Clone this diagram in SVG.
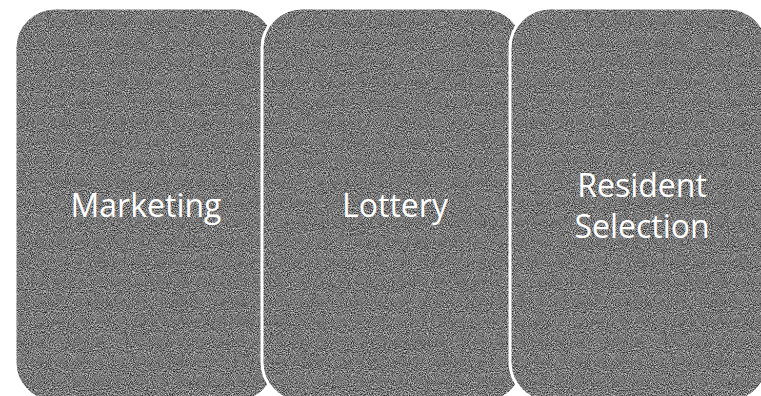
<svg xmlns="http://www.w3.org/2000/svg" width="761" height="396" viewBox="0 0 761 396">
  <style>
    .box { fill: #777777; filter: url(#grain); }
    .edge { fill: none; stroke: #ffffff; stroke-width: 3; }
    .lbl { fill: #ffffff; font-family: "Open Sans", "Noto Sans", "Liberation Sans", sans-serif; font-size: 32px; text-anchor: middle; }
  </style>
  <defs>
    <filter id="grain" x="0" y="0" width="1" height="1" color-interpolation-filters="sRGB">
      <feTurbulence type="fractalNoise" baseFrequency="0.95" numOctaves="2" seed="7" result="n"/>
      <feColorMatrix in="n" type="matrix" values="1.1 0 0 0 -0.08  1.1 0 0 0 -0.08  1.1 0 0 0 -0.08  0 0 0 0 1" result="g"/>
      <feComposite in="g" in2="SourceGraphic" operator="in"/>
    </filter>
  </defs>
  <rect width="761" height="396" fill="#ffffff"/>
  <g id="connectors"/>
  <g id="node-marketing">
    <rect class="box" x="15" y="8" width="261" height="394" rx="40" ry="40"/>
    <rect class="edge" x="15" y="8" width="261" height="394" rx="40" ry="40"/>
    <text class="lbl" x="146" y="217">Marketing</text>
  </g>
  <g id="node-lottery">
    <rect class="box" x="262" y="8" width="262" height="394" rx="40" ry="40"/>
    <rect class="edge" x="262" y="8" width="262" height="394" rx="40" ry="40"/>
    <text class="lbl" x="395" y="217">Lottery</text>
  </g>
  <g id="node-resident-selection">
    <rect class="box" x="510" y="8" width="258" height="394" rx="40" ry="40"/>
    <rect class="edge" x="510" y="8" width="258" height="394" rx="40" ry="40"/>
    <text class="lbl" x="642" y="197">Resident</text>
    <text class="lbl" x="642" y="238">Selection</text>
  </g>
</svg>
